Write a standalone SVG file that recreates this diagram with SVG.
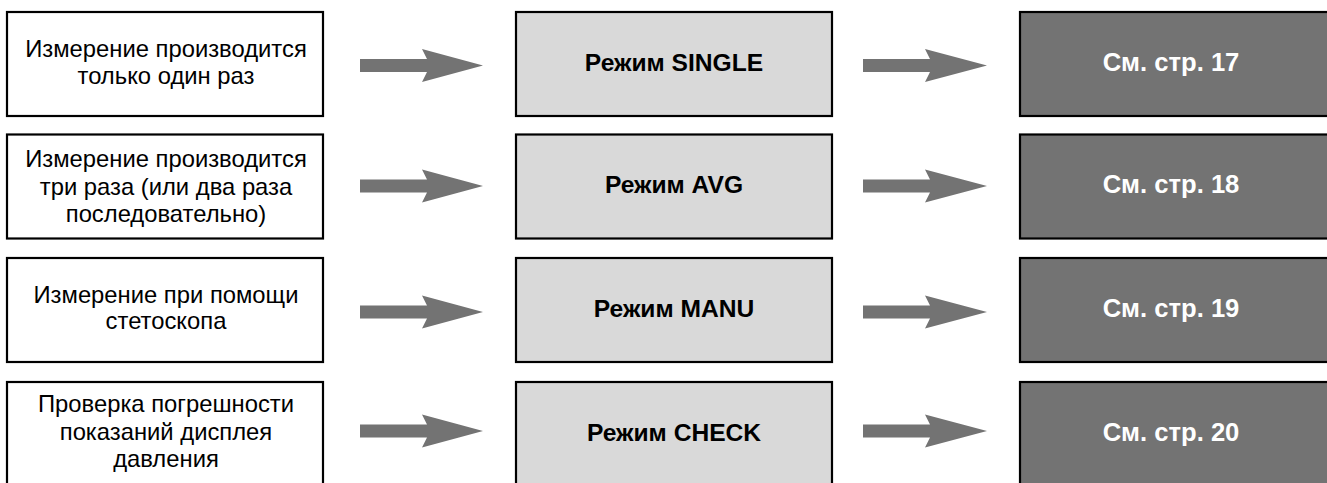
<svg xmlns="http://www.w3.org/2000/svg" width="1327" height="483" viewBox="0 0 1327 483">
<style>
.box{stroke:#000;stroke-width:2.2}
.l{fill:#fff}
.m{fill:#d9d9d9}
.r{fill:#737373}
.t{font-family:"Liberation Sans",Arial,sans-serif;font-size:23.8px;text-anchor:middle;fill:#000}
.b{font-family:"Liberation Sans",Arial,sans-serif;font-weight:bold;text-anchor:middle}
.bm{fill:#000;font-size:24.6px}
.br{fill:#fff;font-size:25.6px}
.arr{fill:#737373}
</style>
<rect width="1327" height="483" fill="#fff"/>
<g id="connectors">
<polygon class="arr" points="360,59 427,59 422,49 483,65.5 422,82 427,72 360,72"/>
<polygon class="arr" points="863,59 930,59 925,49 987,65.5 925,82 930,72 863,72"/>
<polygon class="arr" points="360,179.5 427,179.5 422,169.5 483,186 422,202.5 427,192.5 360,192.5"/>
<polygon class="arr" points="863,179.5 930,179.5 925,169.5 987,186 925,202.5 930,192.5 863,192.5"/>
<polygon class="arr" points="360,305.5 427,305.5 422,295.5 483,312 422,328.5 427,318.5 360,318.5"/>
<polygon class="arr" points="863,305.5 930,305.5 925,295.5 987,312 925,328.5 930,318.5 863,318.5"/>
<polygon class="arr" points="360,424.5 427,424.5 422,414.5 483,431 422,447.5 427,437.5 360,437.5"/>
<polygon class="arr" points="863,424.5 930,424.5 925,414.5 987,431 925,447.5 930,437.5 863,437.5"/>
</g>
<g id="cond1"><rect class="box l" x="7" y="12" width="316" height="104"/>
<text class="t" x="166" y="57">Измерение производится</text><text class="t" x="166" y="83.5">только один раз</text></g>
<g id="cond2"><rect class="box l" x="7" y="134.5" width="316" height="104"/>
<text class="t" x="166" y="167">Измерение производится</text><text class="t" x="166" y="194.5">три раза (или два раза</text><text class="t" x="166" y="222">последовательно)</text></g>
<g id="cond3"><rect class="box l" x="7" y="258" width="316" height="104"/>
<text class="t" x="166" y="303">Измерение при помощи</text><text class="t" x="166" y="329">стетоскопа</text></g>
<g id="cond4"><rect class="box l" x="7" y="382" width="316" height="110"/>
<text class="t" x="166" y="412">Проверка погрешности</text><text class="t" x="166" y="439.5">показаний дисплея</text><text class="t" x="166" y="467">давления</text></g>
<g id="mode1"><rect class="box m" x="516" y="12" width="316" height="104"/><text class="b bm" x="674" y="71">Режим SINGLE</text></g>
<g id="mode2"><rect class="box m" x="516" y="134.5" width="316" height="104"/><text class="b bm" x="674" y="193">Режим AVG</text></g>
<g id="mode3"><rect class="box m" x="516" y="258" width="316" height="104"/><text class="b bm" x="674" y="317">Режим MANU</text></g>
<g id="mode4"><rect class="box m" x="516" y="382" width="316" height="110"/><text class="b bm" x="674" y="441">Режим CHECK</text></g>
<g id="page1"><rect class="box r" x="1020" y="12" width="320" height="104"/><text class="b br" x="1171" y="71">См. стр. 17</text></g>
<g id="page2"><rect class="box r" x="1020" y="134.5" width="320" height="104"/><text class="b br" x="1171" y="193">См. стр. 18</text></g>
<g id="page3"><rect class="box r" x="1020" y="258" width="320" height="104"/><text class="b br" x="1171" y="317">См. стр. 19</text></g>
<g id="page4"><rect class="box r" x="1020" y="382" width="320" height="110"/><text class="b br" x="1171" y="441">См. стр. 20</text></g>
</svg>
